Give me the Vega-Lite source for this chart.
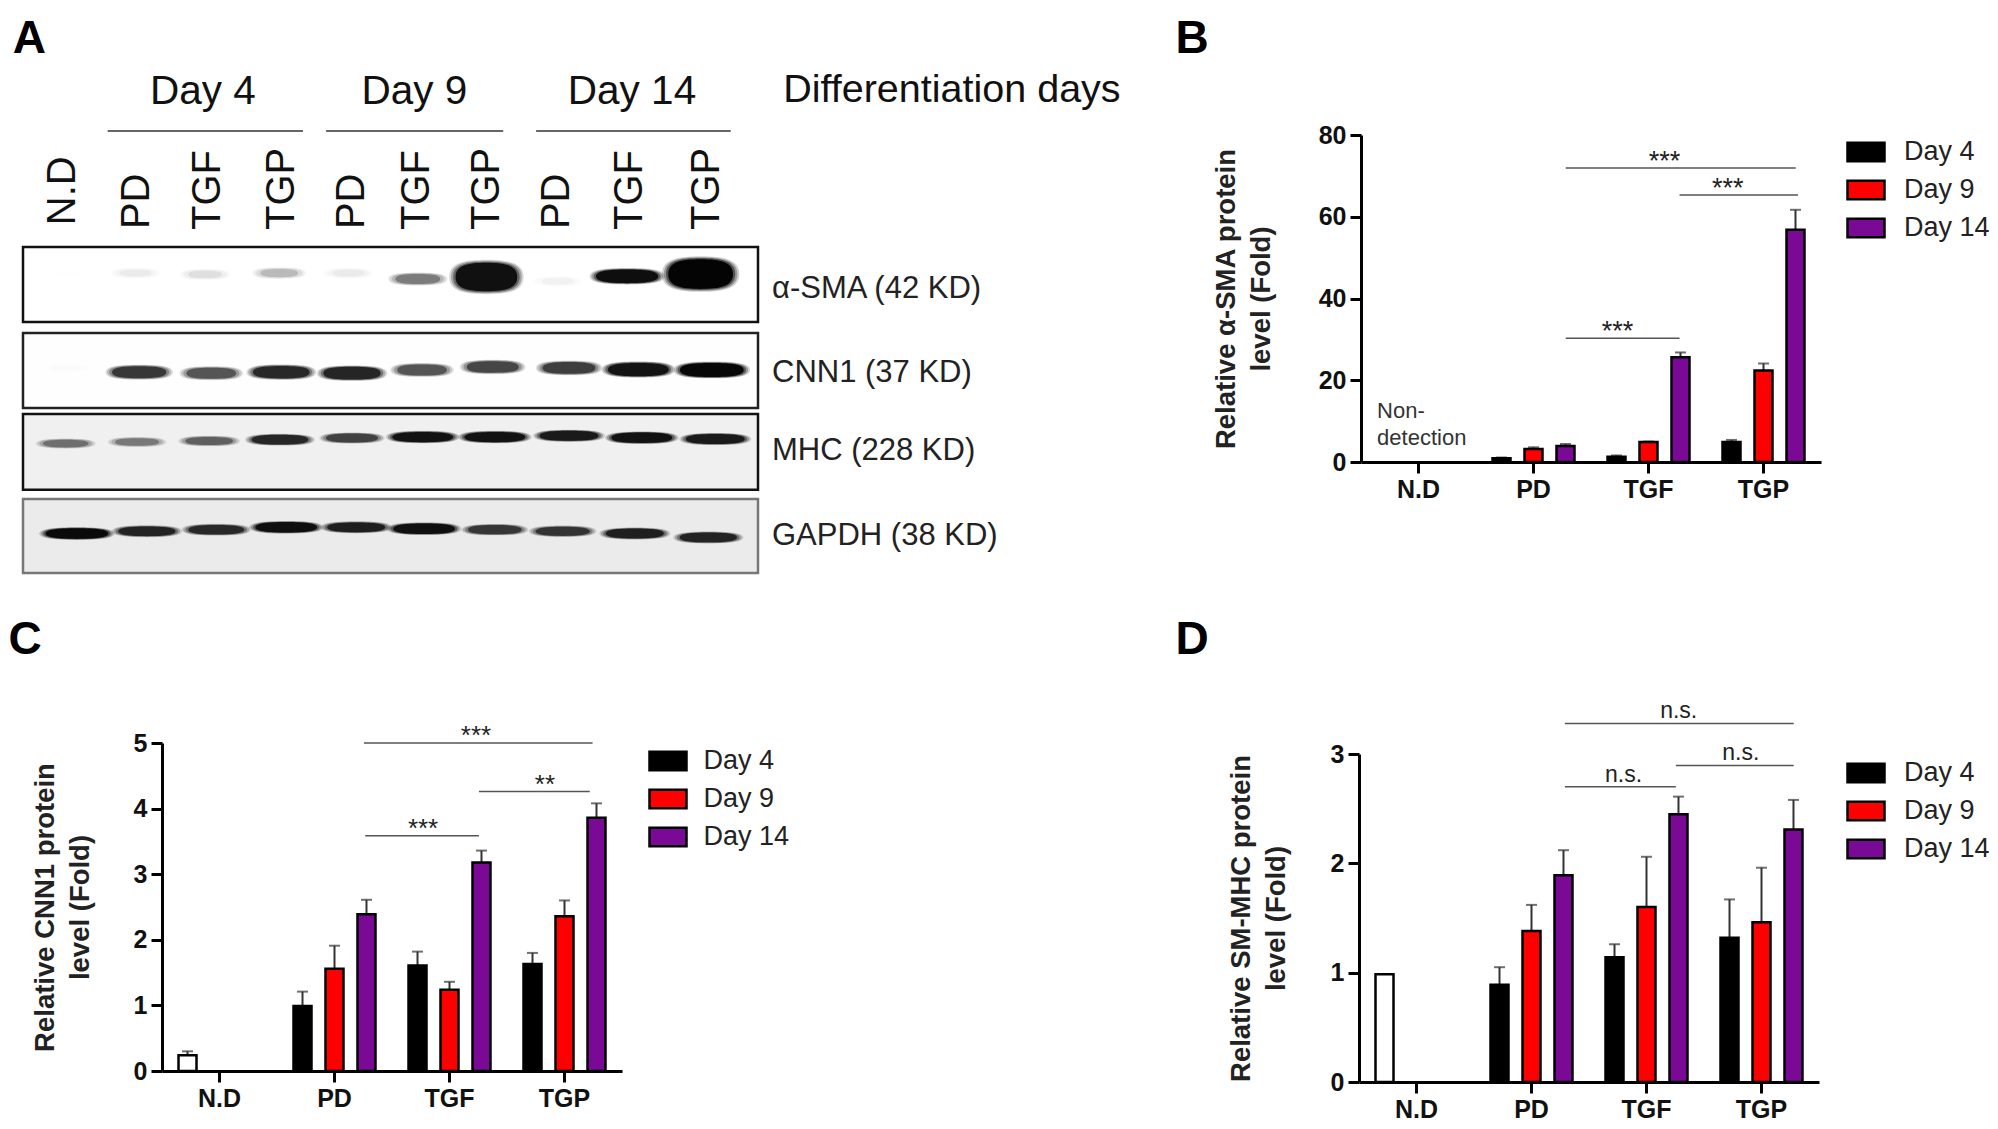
{"$schema":"https://vega.github.io/schema/vega-lite/v6.json","width":1998,"height":1129,"padding":0,"autosize":{"type":"fit","contains":"padding"},"background":"white","config":{"view":{"stroke":null},"font":"Liberation Sans","axis":{"grid":false,"domainColor":"#000","tickColor":"#000","domainWidth":3,"tickWidth":3,"tickSize":11,"labelFont":"Liberation Sans","labelFontWeight":"bold","labelFontSize":25,"labelColor":"#111","labelPadding":4,"titleFont":"Liberation Sans","titleFontWeight":"bold","titleFontSize":27.5,"titleColor":"#222","titleLineHeight":35,"labelAngle":0}},
"datasets":{
"bars":[
{"panel":"B","group":"PD","series":"Day 4","slot":"Day 4","value":0.9,"upper":1.1},
{"panel":"B","group":"PD","series":"Day 9","slot":"Day 9","value":3.2,"upper":3.6},
{"panel":"B","group":"PD","series":"Day 14","slot":"Day 14","value":3.9,"upper":4.4},
{"panel":"B","group":"TGF","series":"Day 4","slot":"Day 4","value":1.3,"upper":1.6},
{"panel":"B","group":"TGF","series":"Day 9","slot":"Day 9","value":4.9,"upper":5.0},
{"panel":"B","group":"TGF","series":"Day 14","slot":"Day 14","value":25.6,"upper":26.8},
{"panel":"B","group":"TGP","series":"Day 4","slot":"Day 4","value":4.9,"upper":5.4},
{"panel":"B","group":"TGP","series":"Day 9","slot":"Day 9","value":22.4,"upper":24.1},
{"panel":"B","group":"TGP","series":"Day 14","slot":"Day 14","value":56.8,"upper":61.7},
{"panel":"C","group":"N.D","series":"N.D","slot":"Day 4","value":0.24,"upper":0.3},
{"panel":"C","group":"PD","series":"Day 4","slot":"Day 4","value":0.99,"upper":1.21},
{"panel":"C","group":"PD","series":"Day 9","slot":"Day 9","value":1.56,"upper":1.91},
{"panel":"C","group":"PD","series":"Day 14","slot":"Day 14","value":2.39,"upper":2.61},
{"panel":"C","group":"TGF","series":"Day 4","slot":"Day 4","value":1.61,"upper":1.82},
{"panel":"C","group":"TGF","series":"Day 9","slot":"Day 9","value":1.24,"upper":1.36},
{"panel":"C","group":"TGF","series":"Day 14","slot":"Day 14","value":3.18,"upper":3.36},
{"panel":"C","group":"TGP","series":"Day 4","slot":"Day 4","value":1.63,"upper":1.8},
{"panel":"C","group":"TGP","series":"Day 9","slot":"Day 9","value":2.36,"upper":2.6},
{"panel":"C","group":"TGP","series":"Day 14","slot":"Day 14","value":3.86,"upper":4.08},
{"panel":"D","group":"N.D","series":"N.D","slot":"Day 4","value":0.985,"upper":0.985},
{"panel":"D","group":"PD","series":"Day 4","slot":"Day 4","value":0.89,"upper":1.05},
{"panel":"D","group":"PD","series":"Day 9","slot":"Day 9","value":1.38,"upper":1.62},
{"panel":"D","group":"PD","series":"Day 14","slot":"Day 14","value":1.89,"upper":2.12},
{"panel":"D","group":"TGF","series":"Day 4","slot":"Day 4","value":1.14,"upper":1.26},
{"panel":"D","group":"TGF","series":"Day 9","slot":"Day 9","value":1.6,"upper":2.06},
{"panel":"D","group":"TGF","series":"Day 14","slot":"Day 14","value":2.45,"upper":2.61},
{"panel":"D","group":"TGP","series":"Day 4","slot":"Day 4","value":1.32,"upper":1.67},
{"panel":"D","group":"TGP","series":"Day 9","slot":"Day 9","value":1.46,"upper":1.96},
{"panel":"D","group":"TGP","series":"Day 14","slot":"Day 14","value":2.31,"upper":2.58}
],
"sigLines":[
{"panel":"B","from":1.78,"to":3.78,"level":71.9},
{"panel":"B","from":2.77,"to":3.8,"level":65.3},
{"panel":"B","from":1.78,"to":2.77,"level":30.3},
{"panel":"C","from":1.756,"to":3.744,"level":5.0},
{"panel":"C","from":2.756,"to":3.72,"level":4.26},
{"panel":"C","from":1.767,"to":2.756,"level":3.585},
{"panel":"D","from":1.79,"to":3.78,"level":3.28},
{"panel":"D","from":2.755,"to":3.78,"level":2.895},
{"panel":"D","from":1.79,"to":2.755,"level":2.7}
],
"sigText":[
{"panel":"B","at":2.64,"level":71.9,"label":"***"},
{"panel":"B","at":3.19,"level":65.3,"label":"***"},
{"panel":"B","at":2.23,"level":30.3,"label":"***"},
{"panel":"C","at":2.73,"level":5.0,"label":"***"},
{"panel":"C","at":3.33,"level":4.26,"label":"**"},
{"panel":"C","at":2.27,"level":3.585,"label":"***"},
{"panel":"D","at":2.78,"level":3.28,"label":"n.s."},
{"panel":"D","at":3.32,"level":2.895,"label":"n.s."},
{"panel":"D","at":2.3,"level":2.7,"label":"n.s."}
],
"nonDetect":[{"at":0.14,"level":12.5,"label":"Non-"},{"at":0.14,"level":5.9,"label":"detection"}],
"blotBoxes":[
{"blot":"a-SMA","left":0,"right":10.5,"bottom":77,"top":100},
{"blot":"CNN1","left":0,"right":10.5,"bottom":50.6,"top":73.6},
{"blot":"MHC","left":0,"right":10.5,"bottom":25.5,"top":48.8},
{"blot":"GAPDH","left":0,"right":10.5,"bottom":0,"top":22.7}
],
"bands":[
{"blot":"a-SMA","lane":"N.D","u":0.61,"v":92,"signal":0.004,"form":"slim"},
{"blot":"a-SMA","lane":"PD 4","u":1.61,"v":92,"signal":0.04,"form":"thin"},
{"blot":"a-SMA","lane":"TGF 4","u":2.6,"v":91.6,"signal":0.07,"form":"thin"},
{"blot":"a-SMA","lane":"TGP 4","u":3.66,"v":92,"signal":0.16,"form":"thin"},
{"blot":"a-SMA","lane":"PD 9","u":4.65,"v":92,"signal":0.04,"form":"thin"},
{"blot":"a-SMA","lane":"TGF 9","u":5.64,"v":90.2,"signal":0.34,"form":"thin"},
{"blot":"a-SMA","lane":"TGP 9","u":6.62,"v":90.8,"signal":0.88,"form":"fat"},
{"blot":"a-SMA","lane":"PD 14","u":7.64,"v":89.5,"signal":0.03,"form":"thin"},
{"blot":"a-SMA","lane":"TGF 14","u":8.63,"v":91,"signal":0.9,"form":"thin"},
{"blot":"a-SMA","lane":"TGP 14","u":9.68,"v":91.7,"signal":1,"form":"fat"},
{"blot":"CNN1","lane":"N.D","u":0.61,"v":62.9,"signal":0.008,"form":"slim"},
{"blot":"CNN1","lane":"PD 4","u":1.66,"v":61.6,"signal":0.62,"form":"thin"},
{"blot":"CNN1","lane":"TGF 4","u":2.69,"v":61.3,"signal":0.48,"form":"thin"},
{"blot":"CNN1","lane":"TGP 4","u":3.69,"v":61.6,"signal":0.7,"form":"thin"},
{"blot":"CNN1","lane":"PD 9","u":4.7,"v":61.3,"signal":0.72,"form":"thin"},
{"blot":"CNN1","lane":"TGF 9","u":5.7,"v":62.3,"signal":0.48,"form":"thin"},
{"blot":"CNN1","lane":"TGP 9","u":6.71,"v":63.2,"signal":0.55,"form":"thin"},
{"blot":"CNN1","lane":"PD 14","u":7.8,"v":62.9,"signal":0.58,"form":"thin"},
{"blot":"CNN1","lane":"TGF 14","u":8.79,"v":62.4,"signal":0.85,"form":"thin"},
{"blot":"CNN1","lane":"TGP 14","u":9.84,"v":62.3,"signal":0.96,"form":"thin"},
{"blot":"MHC","lane":"N.D","u":0.61,"v":39.7,"signal":0.36,"form":"slim"},
{"blot":"MHC","lane":"PD 4","u":1.63,"v":40.2,"signal":0.32,"form":"slim"},
{"blot":"MHC","lane":"TGF 4","u":2.66,"v":40.5,"signal":0.42,"form":"slim"},
{"blot":"MHC","lane":"TGP 4","u":3.67,"v":40.9,"signal":0.7,"form":"slim"},
{"blot":"MHC","lane":"PD 9","u":4.7,"v":41.4,"signal":0.55,"form":"slim"},
{"blot":"MHC","lane":"TGF 9","u":5.71,"v":41.7,"signal":0.85,"form":"slim"},
{"blot":"MHC","lane":"TGP 9","u":6.74,"v":41.7,"signal":0.85,"form":"slim"},
{"blot":"MHC","lane":"PD 14","u":7.8,"v":42.1,"signal":0.78,"form":"slim"},
{"blot":"MHC","lane":"TGF 14","u":8.84,"v":41.5,"signal":0.85,"form":"slim"},
{"blot":"MHC","lane":"TGP 14","u":9.89,"v":41.1,"signal":0.78,"form":"slim"},
{"blot":"GAPDH","lane":"N.D","u":0.77,"v":12.1,"signal":0.92,"form":"slim"},
{"blot":"GAPDH","lane":"PD 4","u":1.77,"v":12.8,"signal":0.72,"form":"slim"},
{"blot":"GAPDH","lane":"TGF 4","u":2.76,"v":13.3,"signal":0.68,"form":"slim"},
{"blot":"GAPDH","lane":"TGP 4","u":3.76,"v":14,"signal":0.88,"form":"slim"},
{"blot":"GAPDH","lane":"PD 9","u":4.76,"v":14,"signal":0.75,"form":"slim"},
{"blot":"GAPDH","lane":"TGF 9","u":5.73,"v":13.6,"signal":0.88,"form":"slim"},
{"blot":"GAPDH","lane":"TGP 9","u":6.74,"v":13.3,"signal":0.6,"form":"slim"},
{"blot":"GAPDH","lane":"PD 14","u":7.71,"v":12.8,"signal":0.62,"form":"slim"},
{"blot":"GAPDH","lane":"TGF 14","u":8.74,"v":12.1,"signal":0.75,"form":"slim"},
{"blot":"GAPDH","lane":"TGP 14","u":9.79,"v":10.9,"signal":0.72,"form":"slim"}
],
"laneLabels":[
{"u":0.575,"v":106.7,"label":"N.D"},{"u":1.625,"v":105.5,"label":"PD"},{"u":2.645,"v":105.2,"label":"TGF"},{"u":3.695,"v":105.2,"label":"TGP"},{"u":4.705,"v":105.5,"label":"PD"},{"u":5.635,"v":105.2,"label":"TGF"},{"u":6.625,"v":105.2,"label":"TGP"},{"u":7.625,"v":105.5,"label":"PD"},{"u":8.675,"v":105.2,"label":"TGF"},{"u":9.775,"v":105.2,"label":"TGP"}
],
"dayLabels":[{"u":2.57,"v":147.4,"label":"Day 4"},{"u":5.59,"v":147.4,"label":"Day 9"},{"u":8.7,"v":147.4,"label":"Day 14"}],
"dayLines":[{"from":1.21,"to":4.0,"v":135.6},{"from":4.33,"to":6.86,"v":135.6},{"from":7.33,"to":10.11,"v":135.6}],
"sideLabels":[{"u":10.7,"v":87,"label":"α-SMA (42 KD)"},{"u":10.7,"v":61.2,"label":"CNN1 (37 KD)"},{"u":10.7,"v":37.3,"label":"MHC (228 KD)"},{"u":10.7,"v":11.2,"label":"GAPDH (38 KD)"}],
"heading":[{"u":10.86,"v":148.3,"label":"Differentiation  days"}],
"letters":[{"u":0.09,"v":163.9,"label":"A"},{"u":16.7,"v":163.9,"label":"B"},{"u":0.03,"v":-20.4,"label":"C"},{"u":16.7,"v":-20.4,"label":"D"}]
},
"resolve":{"scale":{"x":"independent","y":"independent","xOffset":"independent","fill":"independent","stroke":"independent","size":"independent","opacity":"independent","shape":"independent"},"axis":{"x":"independent","y":"independent"},"legend":{"fill":"independent","size":"independent","opacity":"independent","shape":"independent","stroke":"independent"}},
"layer":[
{"encoding":{"x":{"type":"quantitative","scale":{"domain":[0,10.5],"range":[23,758],"nice":false,"zero":false},"axis":null},"y":{"type":"quantitative","scale":{"domain":[0,100],"range":[573,247],"nice":false,"zero":false},"axis":null}},
"resolve":{"scale":{"size":"independent","opacity":"independent"}},
"layer":[
{"data":{"name":"blotBoxes"},"mark":{"type":"rect","strokeWidth":2.5},"encoding":{"x":{"field":"left","type":"quantitative","axis":null},"x2":{"field":"right"},"y":{"field":"bottom","type":"quantitative","axis":null},"y2":{"field":"top"},"fill":{"field":"blot","type":"nominal","scale":{"domain":["a-SMA","CNN1","MHC","GAPDH"],"range":["#ffffff","#fefefe","#f0f0f0","#ebebeb"]},"legend":null},"stroke":{"field":"blot","type":"nominal","scale":{"domain":["a-SMA","CNN1","MHC","GAPDH"],"range":["#111111","#222222","#111111","#777777"]},"legend":null}}},
{"data":{"name":"bands"},"mark":{"type":"point","filled":true,"color":"#000","strokeWidth":0},"encoding":{"x":{"field":"u","type":"quantitative","axis":null},"y":{"field":"v","type":"quantitative","axis":null},"shape":{"field":"form","type":"nominal","scale":{"domain":["slim","thin","fat"],"range":["M-1,0C-1,-.13 -.6,-.17 0,-.17C.6,-.17 1,-.13 1,0C1,.13 .6,.17 0,.17C-.6,.17 -1,.13 -1,0Z","M-1,0C-1,-.18 -.6,-.22 0,-.22C.6,-.22 1,-.18 1,0C1,.18 .6,.22 0,.22C-.6,.22 -1,.18 -1,0Z","M-1,0C-1,-.38 -.6,-.46 0,-.46C.6,-.46 1,-.38 1,0C1,.38 .6,.46 0,.46C-.6,.46 -1,.38 -1,0Z"]},"legend":null},"size":{"field":"signal","type":"quantitative","scale":{"domain":[0,1],"range":[2300,6000],"zero":false},"legend":null},"opacity":{"field":"signal","type":"quantitative","scale":{"domain":[0,1],"range":[0,0.18],"zero":false},"legend":null}}},
{"data":{"name":"bands"},"mark":{"type":"point","filled":true,"color":"#000","strokeWidth":0},"encoding":{"x":{"field":"u","type":"quantitative","axis":null},"y":{"field":"v","type":"quantitative","axis":null},"shape":{"field":"form","type":"nominal","scale":{"domain":["slim","thin","fat"],"range":["M-1,0C-1,-.13 -.6,-.17 0,-.17C.6,-.17 1,-.13 1,0C1,.13 .6,.17 0,.17C-.6,.17 -1,.13 -1,0Z","M-1,0C-1,-.18 -.6,-.22 0,-.22C.6,-.22 1,-.18 1,0C1,.18 .6,.22 0,.22C-.6,.22 -1,.18 -1,0Z","M-1,0C-1,-.38 -.6,-.46 0,-.46C.6,-.46 1,-.38 1,0C1,.38 .6,.46 0,.46C-.6,.46 -1,.38 -1,0Z"]},"legend":null},"size":{"field":"signal","type":"quantitative","scale":{"domain":[0,1],"range":[2116,5400],"zero":false},"legend":null},"opacity":{"field":"signal","type":"quantitative","scale":{"domain":[0,1],"range":[0,0.28],"zero":false},"legend":null}}},
{"data":{"name":"bands"},"mark":{"type":"point","filled":true,"color":"#000","strokeWidth":0},"encoding":{"x":{"field":"u","type":"quantitative","axis":null},"y":{"field":"v","type":"quantitative","axis":null},"shape":{"field":"form","type":"nominal","scale":{"domain":["slim","thin","fat"],"range":["M-1,0C-1,-.13 -.6,-.17 0,-.17C.6,-.17 1,-.13 1,0C1,.13 .6,.17 0,.17C-.6,.17 -1,.13 -1,0Z","M-1,0C-1,-.18 -.6,-.22 0,-.22C.6,-.22 1,-.18 1,0C1,.18 .6,.22 0,.22C-.6,.22 -1,.18 -1,0Z","M-1,0C-1,-.38 -.6,-.46 0,-.46C.6,-.46 1,-.38 1,0C1,.38 .6,.46 0,.46C-.6,.46 -1,.38 -1,0Z"]},"legend":null},"size":{"field":"signal","type":"quantitative","scale":{"domain":[0,1],"range":[1600,4800],"zero":false},"legend":null},"opacity":{"field":"signal","type":"quantitative","scale":{"domain":[0,1],"range":[0,0.45],"zero":false},"legend":null}}},
{"data":{"name":"bands"},"mark":{"type":"point","filled":true,"color":"#000","strokeWidth":0},"encoding":{"x":{"field":"u","type":"quantitative","axis":null},"y":{"field":"v","type":"quantitative","axis":null},"shape":{"field":"form","type":"nominal","scale":{"domain":["slim","thin","fat"],"range":["M-1,0C-1,-.13 -.6,-.17 0,-.17C.6,-.17 1,-.13 1,0C1,.13 .6,.17 0,.17C-.6,.17 -1,.13 -1,0Z","M-1,0C-1,-.18 -.6,-.22 0,-.22C.6,-.22 1,-.18 1,0C1,.18 .6,.22 0,.22C-.6,.22 -1,.18 -1,0Z","M-1,0C-1,-.38 -.6,-.46 0,-.46C.6,-.46 1,-.38 1,0C1,.38 .6,.46 0,.46C-.6,.46 -1,.38 -1,0Z"]},"legend":null},"size":{"field":"signal","type":"quantitative","scale":{"domain":[0,1],"range":[900,4200],"zero":false},"legend":null},"opacity":{"field":"signal","type":"quantitative","scale":{"domain":[0,1],"range":[0,0.95],"zero":false},"legend":null}}},
{"data":{"name":"laneLabels"},"mark":{"type":"text","angle":270,"align":"left","baseline":"middle","fontSize":40,"color":"#111"},"encoding":{"x":{"field":"u","type":"quantitative","axis":null},"y":{"field":"v","type":"quantitative","axis":null},"text":{"field":"label"}}},
{"data":{"name":"dayLabels"},"mark":{"type":"text","align":"center","baseline":"middle","fontSize":40.5,"color":"#111"},"encoding":{"x":{"field":"u","type":"quantitative","axis":null},"y":{"field":"v","type":"quantitative","axis":null},"text":{"field":"label"}}},
{"data":{"name":"dayLines"},"mark":{"type":"rule","color":"#333","strokeWidth":1.5},"encoding":{"x":{"field":"from","type":"quantitative","axis":null},"x2":{"field":"to"},"y":{"field":"v","type":"quantitative","axis":null}}},
{"data":{"name":"sideLabels"},"mark":{"type":"text","align":"left","baseline":"middle","fontSize":31,"color":"#222"},"encoding":{"x":{"field":"u","type":"quantitative","axis":null},"y":{"field":"v","type":"quantitative","axis":null},"text":{"field":"label"}}},
{"data":{"name":"heading"},"mark":{"type":"text","align":"left","baseline":"middle","fontSize":39.5,"color":"#111"},"encoding":{"x":{"field":"u","type":"quantitative","axis":null},"y":{"field":"v","type":"quantitative","axis":null},"text":{"field":"label"}}},
{"data":{"name":"letters"},"mark":{"type":"text","align":"center","baseline":"middle","fontSize":46,"fontWeight":"bold","color":"#000"},"encoding":{"x":{"field":"u","type":"quantitative","axis":null},"y":{"field":"v","type":"quantitative","axis":null},"text":{"field":"label"}}}
]},
{"data":{"name":"bars"},"transform":[{"filter":"datum.panel==='B'"}],"encoding":{"x":{"field":"group","type":"nominal","scale":{"domain":["N.D","PD","TGF","TGP"],"range":[1361,1821],"paddingInner":0,"paddingOuter":0},"axis":{"orient":"bottom","title":null,"offset":-667}},"xOffset":{"field":"slot","type":"nominal","scale":{"domain":["Day 4","Day 9","Day 14"],"paddingInner":0.4375,"paddingOuter":0.516}},"y":{"field":"value","type":"quantitative","stack":null,"scale":{"domain":[0,80],"range":[462,135],"nice":false},"axis":{"orient":"left","offset":-1361,"values":[0,20,40,60,80],"title":["Relative α-SMA protein","level (Fold)"],"titleX":-121}}},
"layer":[
{"mark":{"type":"rule","color":"#333","strokeWidth":2},"encoding":{"y2":{"field":"upper"}}},
{"mark":{"type":"tick","color":"#333","thickness":2,"size":11},"encoding":{"y":{"field":"upper","type":"quantitative"}}},
{"mark":{"type":"bar","stroke":"#000","strokeWidth":2.5},"encoding":{"y2":{"datum":0},"fill":{"field":"series","type":"nominal","scale":{"domain":["N.D","Day 4","Day 9","Day 14"],"range":["#ffffff","#000000","#ff0000","#7a0a96"]},"legend":{"orient":"none","legendX":1846,"legendY":132,"values":["Day 4","Day 9","Day 14"],"title":null,"symbolType":"M-1,-.5H1V.5H-1Z","symbolSize":1369,"symbolStrokeColor":"#000","symbolStrokeWidth":2.5,"labelFontSize":27,"labelFont":"Liberation Sans","labelColor":"#222","labelOffset":18,"rowPadding":3}}}}
]},
{"data":{"name":"bars"},"transform":[{"filter":"datum.panel==='C'"}],"encoding":{"x":{"field":"group","type":"nominal","scale":{"domain":["N.D","PD","TGF","TGP"],"range":[162,622],"paddingInner":0,"paddingOuter":0},"axis":{"orient":"bottom","title":null,"offset":-58}},"xOffset":{"field":"slot","type":"nominal","scale":{"domain":["Day 4","Day 9","Day 14"],"paddingInner":0.4375,"paddingOuter":0.516}},"y":{"field":"value","type":"quantitative","stack":null,"scale":{"domain":[0,5],"range":[1071,743],"nice":false},"axis":{"orient":"left","offset":-162,"values":[0,1,2,3,4,5],"title":["Relative CNN1 protein","level (Fold)"],"titleX":-103}}},
"layer":[
{"mark":{"type":"rule","color":"#333","strokeWidth":2},"encoding":{"y2":{"field":"upper"}}},
{"mark":{"type":"tick","color":"#333","thickness":2,"size":11},"encoding":{"y":{"field":"upper","type":"quantitative"}}},
{"mark":{"type":"bar","stroke":"#000","strokeWidth":2.5},"encoding":{"y2":{"datum":0},"fill":{"field":"series","type":"nominal","scale":{"domain":["N.D","Day 4","Day 9","Day 14"],"range":["#ffffff","#000000","#ff0000","#7a0a96"]},"legend":{"orient":"none","legendX":648,"legendY":741,"values":["Day 4","Day 9","Day 14"],"title":null,"symbolType":"M-1,-.5H1V.5H-1Z","symbolSize":1369,"symbolStrokeColor":"#000","symbolStrokeWidth":2.5,"labelFontSize":27,"labelFont":"Liberation Sans","labelColor":"#222","labelOffset":15.5,"rowPadding":3}}}}
]},
{"data":{"name":"bars"},"transform":[{"filter":"datum.panel==='D'"}],"encoding":{"x":{"field":"group","type":"nominal","scale":{"domain":["N.D","PD","TGF","TGP"],"range":[1359,1819],"paddingInner":0,"paddingOuter":0},"axis":{"orient":"bottom","title":null,"offset":-47}},"xOffset":{"field":"slot","type":"nominal","scale":{"domain":["Day 4","Day 9","Day 14"],"paddingInner":0.4375,"paddingOuter":0.516}},"y":{"field":"value","type":"quantitative","stack":null,"scale":{"domain":[0,3],"range":[1082,754],"nice":false},"axis":{"orient":"left","offset":-1359,"values":[0,1,2,3],"title":["Relative SM-MHC protein","level (Fold)"],"titleX":-104}}},
"layer":[
{"mark":{"type":"rule","color":"#333","strokeWidth":2},"encoding":{"y2":{"field":"upper"}}},
{"mark":{"type":"tick","color":"#333","thickness":2,"size":11},"encoding":{"y":{"field":"upper","type":"quantitative"}}},
{"mark":{"type":"bar","stroke":"#000","strokeWidth":2.5},"encoding":{"y2":{"datum":0},"fill":{"field":"series","type":"nominal","scale":{"domain":["N.D","Day 4","Day 9","Day 14"],"range":["#ffffff","#000000","#ff0000","#7a0a96"]},"legend":{"orient":"none","legendX":1846,"legendY":753,"values":["Day 4","Day 9","Day 14"],"title":null,"symbolType":"M-1,-.5H1V.5H-1Z","symbolSize":1369,"symbolStrokeColor":"#000","symbolStrokeWidth":2.5,"labelFontSize":27,"labelFont":"Liberation Sans","labelColor":"#222","labelOffset":18,"rowPadding":3}}}}
]},
{"encoding":{"x":{"type":"quantitative","scale":{"domain":[0,4],"range":[1361,1821],"nice":false,"zero":false},"axis":null},"y":{"type":"quantitative","scale":{"domain":[0,80],"range":[462,135],"nice":false},"axis":null}},
"layer":[
{"data":{"name":"sigLines"},"transform":[{"filter":"datum.panel==='B'"}],"mark":{"type":"rule","color":"#555","strokeWidth":1.5},"encoding":{"x":{"field":"from","type":"quantitative","axis":null},"x2":{"field":"to"},"y":{"field":"level","type":"quantitative","axis":null}}},
{"data":{"name":"sigText"},"transform":[{"filter":"datum.panel==='B'"}],"mark":{"type":"text","baseline":"bottom","dy":8,"fontSize":27,"color":"#222"},"encoding":{"x":{"field":"at","type":"quantitative","axis":null},"y":{"field":"level","type":"quantitative","axis":null},"text":{"field":"label"}}},
{"data":{"name":"nonDetect"},"mark":{"type":"text","align":"left","baseline":"middle","fontSize":22,"color":"#333"},"encoding":{"x":{"field":"at","type":"quantitative","axis":null},"y":{"field":"level","type":"quantitative","axis":null},"text":{"field":"label"}}}
]},
{"encoding":{"x":{"type":"quantitative","scale":{"domain":[0,4],"range":[162,622],"nice":false,"zero":false},"axis":null},"y":{"type":"quantitative","scale":{"domain":[0,5],"range":[1071,743],"nice":false},"axis":null}},
"layer":[
{"data":{"name":"sigLines"},"transform":[{"filter":"datum.panel==='C'"}],"mark":{"type":"rule","color":"#555","strokeWidth":1.5},"encoding":{"x":{"field":"from","type":"quantitative","axis":null},"x2":{"field":"to"},"y":{"field":"level","type":"quantitative","axis":null}}},
{"data":{"name":"sigText"},"transform":[{"filter":"datum.panel==='C'"}],"mark":{"type":"text","baseline":"bottom","dy":6,"fontSize":26,"color":"#222"},"encoding":{"x":{"field":"at","type":"quantitative","axis":null},"y":{"field":"level","type":"quantitative","axis":null},"text":{"field":"label"}}}
]},
{"encoding":{"x":{"type":"quantitative","scale":{"domain":[0,4],"range":[1359,1819],"nice":false,"zero":false},"axis":null},"y":{"type":"quantitative","scale":{"domain":[0,3],"range":[1082,754],"nice":false},"axis":null}},
"layer":[
{"data":{"name":"sigLines"},"transform":[{"filter":"datum.panel==='D'"}],"mark":{"type":"rule","color":"#555","strokeWidth":1.5},"encoding":{"x":{"field":"from","type":"quantitative","axis":null},"x2":{"field":"to"},"y":{"field":"level","type":"quantitative","axis":null}}},
{"data":{"name":"sigText"},"transform":[{"filter":"datum.panel==='D'"}],"mark":{"type":"text","baseline":"bottom","dy":0,"fontSize":23,"color":"#222"},"encoding":{"x":{"field":"at","type":"quantitative","axis":null},"y":{"field":"level","type":"quantitative","axis":null},"text":{"field":"label"}}}
]}
]}
